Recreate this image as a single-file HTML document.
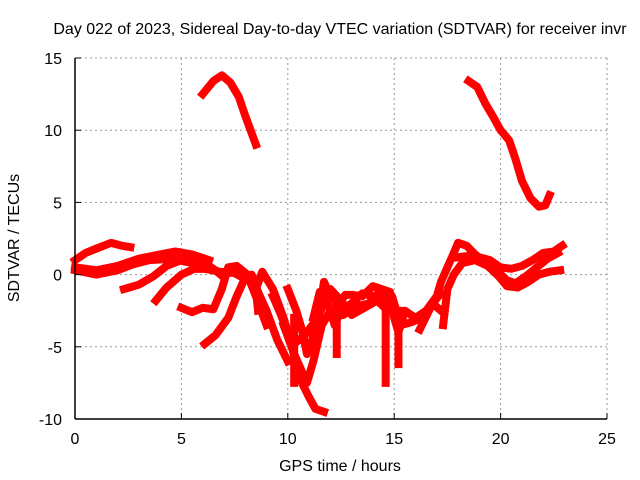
<!DOCTYPE html>
<html><head><meta charset="utf-8"><style>
body{margin:0;background:#fff}
svg{display:block;font-family:"Liberation Sans",sans-serif}
</style></head><body>
<svg id="chart" width="640" height="480">
<text x="340" y="34" font-size="16" text-anchor="middle">Day 022 of 2023, Sidereal Day-to-day VTEC variation (SDTVAR) for receiver invr</text>
<text x="340" y="471" font-size="16" text-anchor="middle">GPS time / hours</text>
<text x="19" y="238" font-size="16" text-anchor="middle" transform="rotate(-90 19 238)">SDTVAR / TECUs</text>
<g id="grid"></g><g id="marks"></g><g id="axes"></g>
</svg>
<script>
const xTicks=[0,5,10,15,20,25];
const yTicks=[-10,-5,0,5,10,15];
const trackTop1=[[6.0,12.5],[6.5,13.4],[6.9,13.8],[7.3,13.3],[7.7,12.3],[8.0,11.0],[8.3,9.8],[8.5,9.0]];
const trackTop2=[[18.5,13.4],[18.9,13.0],[19.3,11.8],[19.7,10.8],[20.0,10.0],[20.4,9.3],[20.7,8.0],[21.0,6.5],[21.4,5.3],[21.8,4.7],[22.1,4.8],[22.3,5.5]];
const trackA=[[0,1.0],[0.5,1.5],[1.0,1.8],[1.7,2.2],[2.2,2.0],[2.6,1.9]];
const trackB=[[0,0.5],[1,0.3],[2,0.6],[3,1.1],[4,1.4],[4.7,1.6],[5.5,1.4],[6.3,1.0]];
const trackC=[[0,0.3],[1,0.0],[2,0.3],[2.7,0.7],[3.5,1.0],[4.5,1.1],[5.5,0.8]];
const trackD=[[2.3,-1.0],[3,-0.7],[3.7,-0.1],[4.3,0.6],[5,1.0],[6,0.9],[6.6,0.3],[7,-0.2]];
const trackE=[[3.8,-1.8],[4.3,-0.9],[5,0],[5.6,0.4],[6.1,0.4],[6.8,0.2],[7.5,0.1],[8,-0.3]];
const trackF=[[5,-2.3],[5.5,-2.6],[6,-2.3],[6.5,-2.4],[6.9,-1.0],[7.2,0.5],[7.6,0.6],[8.1,0.0],[8.5,-1.5],[9,-3.5]];
const trackG=[[6.1,-4.8],[6.6,-4.2],[7.2,-3.0],[7.6,-1.5],[8,-0.2],[8.3,0],[8.6,-1.2],[9.0,-2.5],[9.5,-4.5],[10,-6]];
const trackH=[[8.6,-2.5],[8.5,-1],[8.8,0.2],[9.3,-1],[9.8,-3],[10.2,-5],[10.5,-7],[11,-8.5],[11.3,-9.3],[11.7,-9.5]];
const trackI=[[10,-1.0],[10.4,-2.5],[10.7,-4],[10.9,-5.5],[11.2,-4.3],[11.5,-2.5],[11.7,-0.5],[12,-1.5],[12.4,-2],[12.7,-1.4],[13,-1.4],[13.5,-1.5],[14,-0.8],[14.4,-1.0],[14.8,-1.2],[15,-3],[15.2,-4],[15.5,-2.5],[16,-3],[16.5,-2.5],[17,-1.5],[17.2,-0.5],[17.5,0.5],[17.8,1.5],[18,2.2],[18.4,2.0],[18.8,1.4],[19.3,0.8],[19.8,0.3],[20.3,-0.4],[20.7,-0.6],[21.2,-0.1],[21.7,0.5],[22.2,1.1],[22.7,1.5]];
const trackJ=[[11.2,-3],[11.5,-1.2],[11.8,-1.5],[12.2,-3.5],[12.5,-2.5],[13,-2],[13.5,-1.3],[14,-1.5],[14.5,-1.5],[14.8,-2.2]];
const trackM=[[9.8,-3.5],[10.3,-5.5],[10.6,-6.5],[10.9,-7.5],[11.2,-6],[11.6,-3.5],[12.0,-2.5],[12.6,-2.8],[13.2,-2.2],[13.8,-2.0],[14.3,-1.2],[14.9,-1.5],[15.3,-3.5],[15.8,-3.3],[16.3,-3.0],[16.8,-2.0],[17.2,-2.5]];
const trackN=[[9.3,-1.5],[9.6,-2.5],[10.0,-4.0],[10.3,-4.8],[10.8,-4.2],[11.4,-3],[12.0,-1.0],[12.5,-1.8],[13.0,-2.8],[13.6,-2.3],[14.2,-1.8],[14.7,-2.5]];
const trackK=[[17.3,-3.5],[17.5,-1],[17.8,0],[18.2,0.8],[18.8,1.0],[19.4,0.6],[19.9,-0.1],[20.3,-0.8],[20.8,-0.9],[21.3,-0.5],[21.8,0],[22.3,0.2],[22.8,0.3]];
const trackL=[[18.0,1.2],[18.5,1.3],[19,1.2],[19.5,1.0],[20,0.5],[20.5,0.4],[21,0.6],[21.5,1.0],[22,1.5],[22.5,1.6],[22.9,2.0]];
const spike1=[[14.6,-1.5],[14.6,-7.5]];
const spike2=[[15.2,-2.5],[15.2,-6.2]];
const spike3=[[12.3,-2],[12.3,-5.5]];
const spike4=[[10.3,-3],[10.3,-7.5]];
const spike5=[[16.2,-3.8],[16.8,-2],[17.2,-1.3]];
const tracks=[trackTop1,trackTop2,trackA,trackB,trackC,trackD,trackE,trackF,trackG,trackH,trackI,trackJ,trackM,trackN,trackK,trackL,spike1,spike2,spike3,spike4,spike5];
const X0=75,X1=607,Y0=419,Y1=58;
const xs=v=>X0+(v-0)/(25-0)*(X1-X0);
const ys=v=>Y0-(v+10)/(25)*(Y0-Y1);
const NS="http://www.w3.org/2000/svg";
function mk(t,a,p){const e=document.createElementNS(NS,t);for(const k in a)e.setAttribute(k,a[k]);p.appendChild(e);return e;}
const grid=document.getElementById('grid'),axes=document.getElementById('axes'),marks=document.getElementById('marks');
xTicks.forEach(t=>{
 const x=xs(t);
 if(t>0){const g=mk('line',{x1:x,x2:x,y1:Y1,y2:Y0,stroke:'#999','stroke-dasharray':'2,3'},grid);
 
 }
 mk('line',{x1:x,x2:x,y1:Y0,y2:Y0-6,stroke:'#000'},axes);
 const l=mk('text',{x:x,y:444,'font-size':16,'text-anchor':'middle'},axes);l.textContent=t;
 
 
});
yTicks.forEach(t=>{
 const y=ys(t);
 if(t>-10){const g=mk('line',{x1:X0,x2:X1,y1:y,y2:y,stroke:'#999','stroke-dasharray':'2,3'},grid);
 
 }
 mk('line',{x1:X0,x2:X0+6,y1:y,y2:y,stroke:'#000'},axes);
 const l=mk('text',{x:62,y:y+6,'font-size':16,'text-anchor':'end'},axes);l.textContent=t;
 
 
});
mk('line',{x1:X0,x2:X0,y1:Y1,y2:Y0,stroke:'#000','stroke-width':1.5},axes);
mk('line',{x1:X0,x2:X1,y1:Y0,y2:Y0,stroke:'#000','stroke-width':1.5},axes);
tracks.forEach(tr=>{
 const p=mk('polyline',{points:tr.map(d=>xs(d[0])+','+ys(d[1])).join(' '),fill:'none',stroke:'#f00','stroke-width':8,'stroke-linejoin':'round','stroke-linecap':'square'},marks);
 
 
});
</script>
</body></html>
